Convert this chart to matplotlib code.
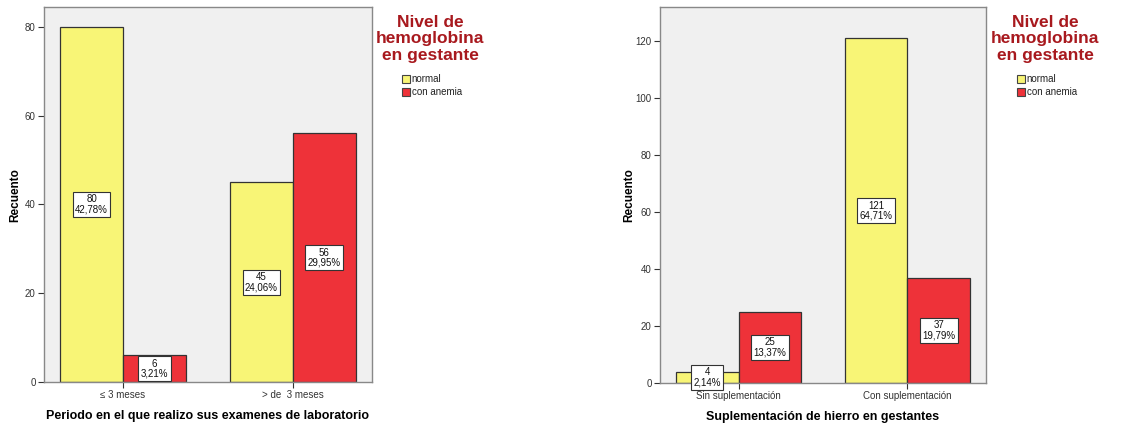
import matplotlib.pyplot as plt
import numpy as np

plt.rcParams['font.family'] = ['Liberation Sans', 'DejaVu Sans']

# Datos
grupos = ['normal', 'con anemia']
colores = ['#F8F576', '#EE3239']

cat_periodo = ['\u2264 3 meses', '> de  3 meses']
normal_periodo = [80, 45]
anemia_periodo = [6, 56]
pct_normal_periodo = ['42,78%', '24,06%']
pct_anemia_periodo = ['3,21%', '29,95%']

cat_suple = ['Sin suplementación', 'Con suplementación']
normal_suple = [4, 121]
anemia_suple = [25, 37]
pct_normal_suple = ['2,14%', '64,71%']
pct_anemia_suple = ['13,37%', '19,79%']

W, H = 1137, 426
fig = plt.figure(figsize=(W / 100, H / 100), dpi=100)


def panel(rect, cats, normal, anemia, pct_n, pct_a, ymax, yticks, xlabel,
          ylab_x, title_x, leg_x):
    ax = fig.add_axes(rect)
    ax.set_facecolor('#F0F0F0')
    x = np.arange(len(cats))
    w = 0.37
    for vals, pcts, off, col in [(normal, pct_n, -w / 2, colores[0]),
                                 (anemia, pct_a, w / 2, colores[1])]:
        ax.bar(x + off, vals, width=w, color=col, edgecolor='#333333',
               linewidth=0.9, zorder=2)
        for xi, v, p in zip(x + off, vals, pcts):
            ax.text(xi, v / 2, f'{v}\n{p}', ha='center', va='center',
                    fontsize=7, linespacing=1.0, color='#111111', zorder=3,
                    bbox=dict(boxstyle='square,pad=0.25', fc='white',
                              ec='#333333', lw=0.8))
    ax.set_xlim(-0.465, 1.465)
    ax.set_ylim(0, ymax)
    ax.set_yticks(yticks)
    ax.set_xticks(x)
    ax.set_xticklabels(cats)
    ax.tick_params(axis='both', labelsize=7, colors='#333333',
                   direction='out', length=4, width=0.8, pad=2)
    for s in ax.spines.values():
        s.set_color('#888888')
        s.set_linewidth(1.0)
    ax.set_xlabel(xlabel, fontsize=9, fontweight='bold', labelpad=7)
    fig.text(ylab_x / W, 1 - 195 / H, 'Recuento', rotation=90, fontsize=8.5,
             fontweight='bold', ha='center', va='center')
    fig.text(title_x / W, 1 - 15 / H, 'Nivel de\nhemoglobina\nen gestante',
             ha='center', va='top', fontsize=12.5, fontweight='bold',
             color='#A8191E', linespacing=1.12)
    handles = [plt.Rectangle((0, 0), 1, 1, fc=c, ec='#444444', lw=0.8)
               for c in colores]
    fig.legend(handles, grupos, loc='upper left',
               bbox_to_anchor=(leg_x / W, 1 - 74 / H), frameon=False,
               fontsize=7, handlelength=0.8, handleheight=0.9,
               handletextpad=0.2, labelspacing=0.3, borderpad=0,
               borderaxespad=0, labelcolor='#222222')
    return ax


panel([44 / W, 44 / H, 328 / W, 375 / H], cat_periodo, normal_periodo,
      anemia_periodo, pct_normal_periodo, pct_anemia_periodo, 84.5,
      [0, 20, 40, 60, 80],
      'Periodo en el que realizo sus examenes de laboratorio', 15, 430, 402)

panel([660 / W, 43 / H, 326 / W, 376 / H], cat_suple, normal_suple,
      anemia_suple, pct_normal_suple, pct_anemia_suple, 132,
      [0, 20, 40, 60, 80, 100, 120],
      'Suplementación de hierro en gestantes', 629, 1045, 1017)

fig.savefig('out.png', dpi=100)
